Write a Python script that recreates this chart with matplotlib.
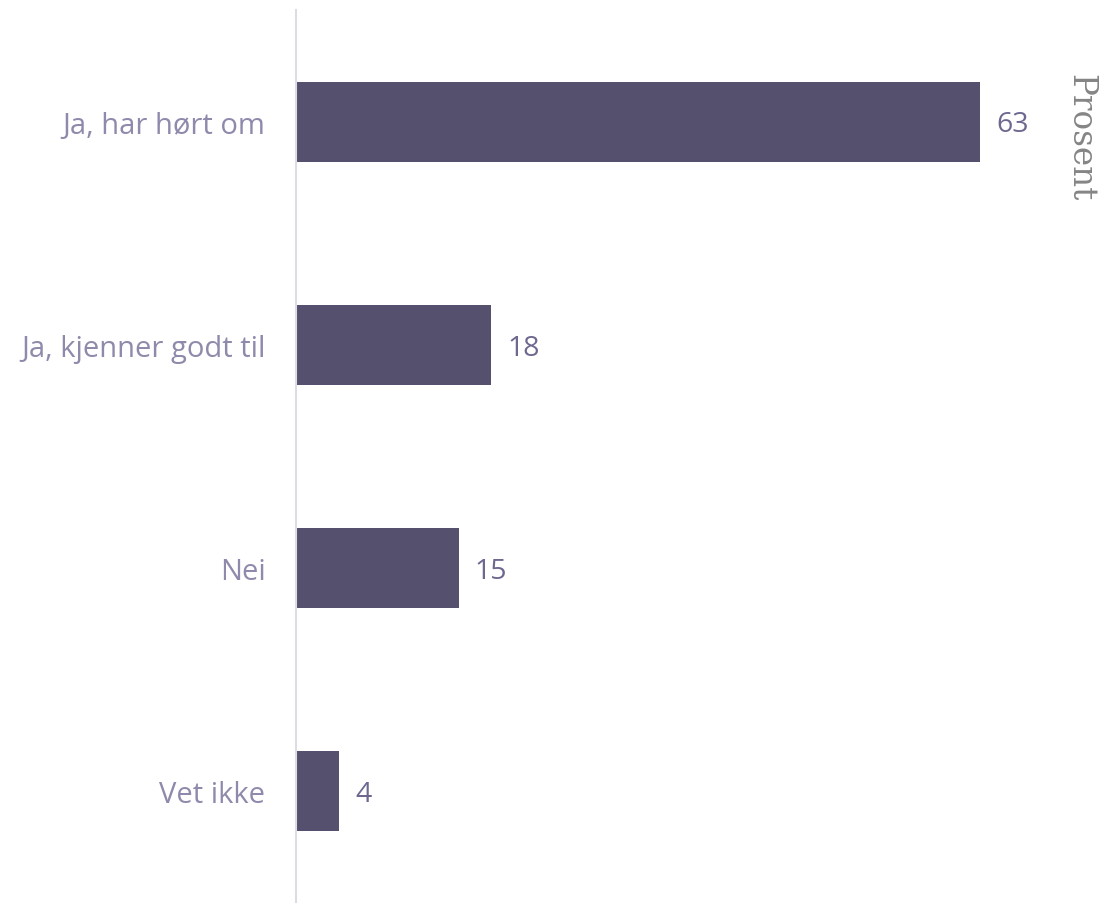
import matplotlib
matplotlib.use("Agg")
import matplotlib.pyplot as plt

categories = ["Ja, har hørt om", "Ja, kjenner godt til", "Nei", "Vet ikke"]
values = [63, 18, 15, 4]
unit_label = "Prosent"

bar_color = "#55506e"
label_color = "#8f8aab"
value_color = "#6c6890"

fig = plt.figure(figsize=(11.04, 9.04), dpi=100)
ax = fig.add_axes([296/1104, 0, 1 - 296/1104, 893/904])

ypos = list(range(len(categories)))
ax.barh(ypos, values, height=0.358, color=bar_color, zorder=2)
ax.set_xlim(0, 808/10.857)
ax.set_ylim(len(categories) - 0.5, -0.5)

for y, v in zip(ypos, values):
    ax.annotate(str(v), (v, y), xytext=(11.5, -2), textcoords="offset points",
                va="center", ha="left", fontsize=20.5, color=value_color,
                family="Open Sans")

ax.set_yticks(ypos)
ax.set_yticklabels(categories, fontsize=21, color=label_color, family="Open Sans")
ax.tick_params(axis="y", length=0, pad=22)
ax.set_xticks([])
for s in ["top", "right", "bottom"]:
    ax.spines[s].set_visible(False)
ax.spines["left"].set_color("#dcdce4")
ax.spines["left"].set_linewidth(1.5)

fig.text(1080/1104, 1 - 138/904, unit_label, rotation=270, va="center", ha="center",
         fontsize=23.5, color="#858585", family="DejaVu Serif", fontweight="light")

fig.savefig("out.png", dpi=100)
